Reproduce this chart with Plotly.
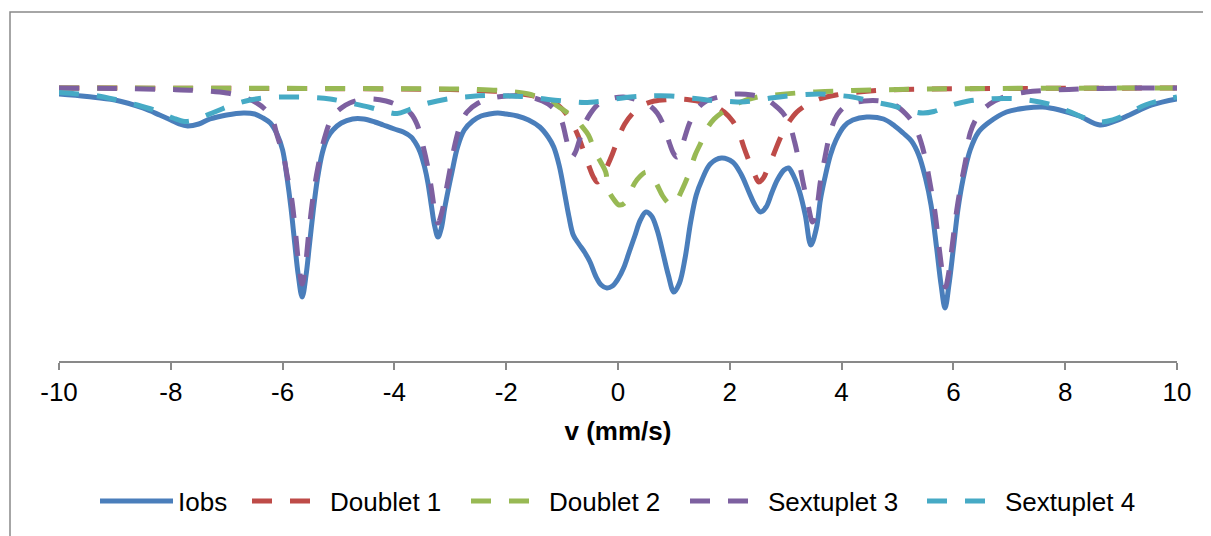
import plotly.graph_objects as go

# ---- data (velocity in mm/s, relative transmission in %) ----
v_iobs = [-10.0, -9.5, -9.0, -8.5, -8.2, -8.0, -7.85, -7.7, -7.5, -7.3, -7.0, -6.7, -6.5, -6.35, -6.22, -6.1,
          -6.0, -5.92, -5.85, -5.78, -5.72, -5.65, -5.58, -5.52, -5.45, -5.38, -5.29, -5.2, -5.1, -4.95, -4.75,
          -4.55, -4.35, -4.2, -4.0, -3.84, -3.7, -3.6, -3.54, -3.46, -3.40, -3.34, -3.28, -3.22, -3.16, -3.10,
          -3.03, -2.97, -2.87, -2.75, -2.6, -2.45, -2.3, -2.15, -2.0, -1.8, -1.6, -1.4, -1.25, -1.15, -1.05,
          -0.95, -0.88, -0.8, -0.7, -0.6, -0.5, -0.4, -0.3, -0.2, -0.1, 0.0, 0.1, 0.2, 0.3, 0.4, 0.5, 0.6, 0.7,
          0.8, 0.9, 1.0, 1.1, 1.2, 1.3, 1.4, 1.5, 1.65, 1.85, 2.05, 2.2, 2.35, 2.45, 2.55, 2.65, 2.75, 2.85,
          2.97, 3.05, 3.15, 3.25, 3.35, 3.45, 3.55, 3.62, 3.7, 3.8, 3.9, 4.05, 4.2, 4.45, 4.75, 4.95, 5.1, 5.25,
          5.38, 5.5, 5.6, 5.7, 5.78, 5.85, 5.92, 6.0, 6.08, 6.17, 6.3, 6.45, 6.62, 6.95, 7.3, 7.6, 7.9, 8.25,
          8.62, 8.9, 9.15, 9.55, 10.0]
t_iobs = [99.4, 99.15, 98.8, 98.0, 97.3, 96.8, 96.4, 96.2, 96.4, 96.9, 97.3, 97.5, 97.4, 97.0, 96.5, 95.4,
          93.8, 91.0, 88.0, 84.3, 81.3, 79.1, 81.3, 84.3, 87.8, 90.8, 93.5, 95.0, 95.8, 96.5, 96.9,
          96.9, 96.6, 96.3, 95.9, 95.6, 95.1, 94.3, 93.6, 92.1, 90.5, 88.3, 86.2, 85.1, 86.0, 88.0,
          90.0, 91.6, 94.1, 95.8, 96.7, 97.2, 97.4, 97.5, 97.4, 97.2, 96.8, 96.1, 95.1, 94.1, 92.2,
          89.3, 87.2, 85.3, 84.4, 83.6, 82.6, 81.2, 80.3, 80.0, 80.2, 80.9, 82.0, 83.6, 85.2, 86.8, 87.6, 87.2, 85.8,
          83.6, 81.3, 79.6, 80.5, 83.0, 86.6, 89.3, 90.8, 92.4, 93.0, 92.6, 91.4, 89.5, 88.3, 87.6, 88.1, 89.5, 90.8,
          91.8, 92.0, 91.1, 89.6, 87.3, 84.3, 86.0, 88.8, 91.0, 93.3, 94.8, 96.2, 96.8, 97.1, 96.9, 96.2, 95.5, 94.7,
          93.3, 91.0, 88.3, 84.0, 80.3, 78.0, 80.3, 84.0, 87.8, 90.8, 93.8, 95.6, 96.5, 97.6, 98.0, 98.1, 97.8, 97.2,
          96.3, 96.7, 97.3, 98.3, 98.9]

v_d1 = [-10.0, -6.0, -4.0, -3.0, -2.5, -2.0, -1.6, -1.3, -1.1, -0.95, -0.85, -0.72, -0.62, -0.52, -0.44, -0.37,
        -0.3, -0.2, -0.1, 0.0, 0.12, 0.27, 0.45, 0.65, 0.9, 1.1, 1.3, 1.5, 1.7, 1.9, 2.05, 2.16, 2.25, 2.35,
        2.44, 2.52, 2.6, 2.68, 2.78, 2.88, 2.97, 3.07, 3.2, 3.4, 3.6, 3.9, 4.3, 4.8, 5.5, 7.0, 10.0]
t_d1 = [100.0, 99.95, 99.9, 99.85, 99.75, 99.6, 99.3, 98.9, 98.4, 97.6, 96.8, 95.3, 93.8, 92.2, 91.1, 90.6,
        91.0, 92.1, 93.4, 94.9, 96.4, 97.5, 98.3, 98.7, 98.85, 98.9, 98.8, 98.6, 98.3, 97.6, 96.7, 95.6, 94.1, 92.6,
        91.4, 90.6, 91.0, 92.0, 93.3, 94.7, 95.8, 96.7, 97.6, 98.4, 98.9, 99.3, 99.6, 99.8, 99.9, 99.95, 100.0]

v_d2 = [-10.0, -5.0, -3.0, -2.5, -2.0, -1.6, -1.39, -1.2, -1.03, -0.9, -0.76, -0.65, -0.53, -0.4, -0.3, -0.22,
        -0.17, -0.08, 0.02, 0.12, 0.22, 0.3, 0.4, 0.5, 0.6, 0.7, 0.8, 0.9, 0.97, 1.05, 1.12, 1.2, 1.28, 1.38,
        1.48, 1.6, 1.72, 1.85, 2.0, 2.2, 2.5, 2.8, 3.2, 3.7, 4.2, 5.0, 6.5, 10.0]
t_d2 = [100.0, 99.95, 99.9, 99.85, 99.7, 99.4, 99.0, 98.6, 98.0, 97.5, 97.0, 96.2, 95.3, 93.5, 92.5, 91.6,
        89.8, 88.9, 88.3, 88.5, 89.6, 90.5, 91.2, 91.6, 91.3, 90.3, 89.2, 88.5, 88.3, 88.7, 89.5, 90.5, 91.6, 93.3,
        94.5, 96.0, 96.9, 97.5, 98.0, 98.6, 99.1, 99.3, 99.5, 99.65, 99.75, 99.85, 99.95, 100.0]

v_s3 = [-10.0, -9.0, -8.0, -7.5, -7.0, -6.7, -6.46, -6.3, -6.19, -6.1, -5.98, -5.92, -5.84, -5.77, -5.71, -5.65,
        -5.59, -5.53, -5.45, -5.37, -5.25, -5.11, -4.95, -4.8, -4.5, -4.15, -3.84, -3.7, -3.59, -3.5, -3.41,
        -3.34, -3.28, -3.22, -3.15, -3.08, -3.0, -2.92, -2.82, -2.7, -2.5, -2.25, -2.0, -1.75, -1.5, -1.35, -1.2,
        -1.08, -1.0, -0.93, -0.87, -0.82, -0.76, -0.7, -0.62, -0.5, -0.35, -0.15, 0.1, 0.35, 0.55, 0.7, 0.82,
        0.92, 0.99, 1.05, 1.11, 1.18, 1.28, 1.4, 1.55, 1.8, 2.1, 2.4, 2.65, 2.8, 2.95, 3.07, 3.16, 3.24, 3.32,
        3.4, 3.48, 3.55, 3.62, 3.7, 3.8, 3.92, 4.1, 4.4, 4.7, 4.95, 5.15, 5.3, 5.42, 5.51, 5.59, 5.67, 5.75,
        5.81, 5.86, 5.91, 5.98, 6.06, 6.14, 6.22, 6.3, 6.45, 6.65, 6.9, 7.3, 7.8, 8.5, 10.0]
t_s3 = [100.0, 99.95, 99.85, 99.75, 99.5, 99.1, 98.5, 97.8, 97.0, 95.3, 93.1, 91.3, 89.0, 85.6, 82.3, 80.4,
        82.3, 85.6, 89.3, 92.0, 95.0, 97.1, 98.0, 98.5, 98.9, 98.7, 98.0, 97.4, 96.3, 94.5, 92.3,
        90.0, 87.8, 86.5, 87.6, 89.6, 92.0, 94.3, 96.3, 97.6, 98.5, 99.0, 99.2, 99.2, 99.0, 98.7, 98.2,
        97.5, 96.6, 95.0, 93.7, 93.1, 93.6, 94.6, 96.1, 97.4, 98.4, 98.9, 99.1, 98.8, 98.3, 97.5, 96.2,
        94.5, 93.5, 93.1, 93.6, 94.8, 96.5, 97.8, 98.6, 99.1, 99.4, 99.3, 98.9, 98.3, 97.5, 96.3, 94.6, 92.6, 90.3,
        88.3, 86.6, 87.8, 90.6, 93.0, 95.6, 97.3, 98.3, 98.7, 98.7, 98.3, 97.4, 96.3, 94.6, 92.6, 90.2, 87.6, 83.8,
        81.3, 80.1, 81.3, 84.3, 87.8, 90.5, 92.8, 95.5, 97.3, 98.4, 99.1, 99.6, 99.8, 99.95, 100.0]

v_s4 = [-10.0, -9.65, -9.3, -8.96, -8.6, -8.25, -7.96, -7.75, -7.57, -7.26, -6.9, -6.58, -6.22, -5.86, -5.47,
        -5.15, -4.79, -4.43, -4.2, -3.95, -3.75, -3.55, -3.39, -3.0, -2.64, -2.3, -1.93, -1.61, -1.25, -0.89,
        -0.6, -0.35, -0.17, 0.22, 0.54, 0.94, 1.3, 1.69, 2.0, 2.2, 2.4, 2.73, 3.12, 3.6, 3.84, 4.2, 4.5, 4.9,
        5.24, 5.45, 5.65, 5.92, 6.27, 6.63, 7.0, 7.33, 7.7, 8.05, 8.35, 8.6, 8.85, 9.07, 9.43, 9.75, 10.0]
t_s4 = [99.55, 99.4, 99.2, 98.8, 98.3, 97.7, 97.0, 96.65, 96.8, 97.5, 98.3, 98.8, 99.05, 99.1, 99.05,
        98.9, 98.5, 98.05, 97.7, 97.45, 97.8, 98.2, 98.5, 98.95, 99.15, 99.25, 99.2, 99.1, 98.85, 98.65,
        98.55, 98.65, 98.8, 99.1, 99.2, 99.2, 99.0, 98.75, 98.65, 98.6, 98.7, 99.0, 99.25, 99.4, 99.3, 99.1, 98.7, 98.25,
        97.7, 97.5, 97.65, 98.2, 98.7, 98.9, 98.95, 98.8, 98.4, 97.7, 97.0, 96.6, 96.8, 97.3, 98.3, 98.8, 99.1]

x_ticks = [-10, -8, -6, -4, -2, 0, 2, 4, 6, 8, 10]
x_title = "v (mm/s)"

series = [
    ("Iobs", v_iobs, t_iobs, "#4A7EBB", "solid"),
    ("Doublet 1", v_d1, t_d1, "#BE4B48", "20px,18px"),
    ("Doublet 2", v_d2, t_d2, "#98B954", "20px,18px"),
    ("Sextuplet 3", v_s3, t_s3, "#7D60A0", "20px,18px"),
    ("Sextuplet 4", v_s4, t_s4, "#46AAC5", "20px,18px"),
]

FONT = "Liberation Sans, Arial, sans-serif"
OFF = 8  # page body margin
W, H = 1211 - OFF, 536 - OFF
ML, MT = 59 - OFF, 30 - OFF
PLOT_R, PLOT_B = 1177 - OFF, 361 - OFF
MR, MB = W - PLOT_R, H - PLOT_B
PW, PH = W - ML - MR, H - MT - MB


def px_x(p):  # page pixel -> paper fraction
    return (p - OFF - ML) / PW


def px_y(p):
    return (PLOT_B - (p - OFF)) / PH


# page x where each legend entry begins (one legend box per entry)
legend_left_px = [95, 247, 466, 685, 922]
legend_ids = ["legend", "legend2", "legend3", "legend4", "legend5"]

fig = go.Figure()
for (name, xs, ys, col, dash), lid in zip(series, legend_ids):
    fig.add_trace(go.Scatter(
        x=xs, y=ys, name=name, mode="lines", legend=lid,
        line=dict(color=col, width=5, dash=dash, shape="spline", smoothing=1.0),
        hoverinfo="skip",
    ))

legend_layout = {}
for lid, lx in zip(legend_ids, legend_left_px):
    legend_layout[lid] = dict(orientation="h", x=px_x(lx), xanchor="left", y=px_y(501), yanchor="middle",
                              font=dict(size=26, family=FONT, color="black"), itemwidth=73,
                              bgcolor="rgba(0,0,0,0)", borderwidth=0)

fig.update_layout(
    width=W, height=H,
    margin=dict(l=ML, r=MR, t=MT, b=MB, pad=0),
    paper_bgcolor="white", plot_bgcolor="white",
    font=dict(family=FONT, size=26, color="black"),
    showlegend=True,
    xaxis=dict(range=[-10, 10], tickvals=x_ticks, ticktext=[str(t) for t in x_ticks],
               ticks="outside", ticklen=7, tickwidth=1.5, tickcolor="#898989",
               showline=True, linecolor="#898989", linewidth=1.5,
               showgrid=False, zeroline=False,
               tickfont=dict(size=26, family=FONT, color="black"),
               title=dict(text="<b>" + x_title + "</b>", font=dict(size=26, family=FONT, color="black"),
                          standoff=16)),
    yaxis=dict(range=[72.7, 105.8], visible=False, showgrid=False, zeroline=False),
    shapes=[dict(type="rect", xref="paper", yref="paper",
                 x0=px_x(10), x1=px_x(1216), y0=px_y(545), y1=px_y(12),
                 line=dict(color="#898989", width=1.5), fillcolor="rgba(0,0,0,0)", layer="below")],
    **legend_layout,
)

fig.write_html("out.html")
